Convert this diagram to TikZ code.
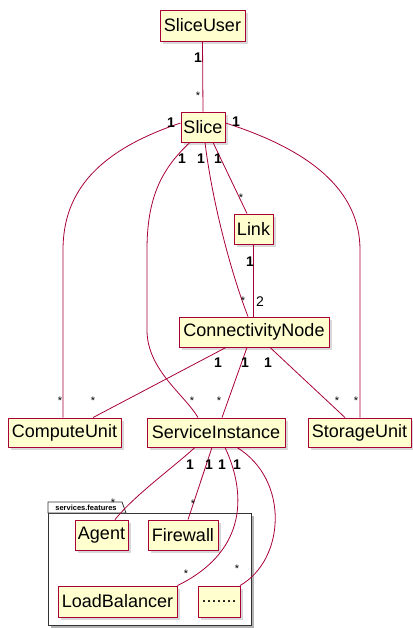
\documentclass[tikz,border=0pt]{standalone}
\usepackage{fontspec}
\setmainfont{Liberation Sans}
\usetikzlibrary{shadows}
\definecolor{umlred}{HTML}{A80036}
\definecolor{umlfill}{HTML}{FEFECE}
\begin{document}
\begin{tikzpicture}[x=1pt,y=-1pt,
  cls/.style={draw=umlred, fill=umlfill, line width=0.9pt,
    font=\fontsize{18}{20}\selectfont, inner sep=0pt, minimum height=30pt,
    drop shadow={shadow xshift=3pt, shadow yshift=-3pt, opacity=0.3}},
  assoc/.style={draw=umlred, line width=0.8pt},
  one/.style={font=\bfseries\fontsize{14}{14}\selectfont, inner sep=0pt},
  two/.style={font=\fontsize{14}{14}\selectfont, inner sep=0pt},
  many/.style={font=\fontsize{11}{11}\selectfont, inner sep=0pt},
  pkg/.style={draw=black!80, line width=0.8pt, fill=white},
]
\useasboundingbox (0,0) rectangle (412,628);

% package frame
\fill[black, opacity=0.3] (51,516) rectangle (254,628);
\draw[pkg] (48,513) rectangle (251,625);
\draw[pkg] (48,513) -- (48,502) -- (122,502) -- (126,513) -- cycle;
\node[font=\bfseries\fontsize{7.5}{8}\selectfont, inner sep=0pt] (pkglabel) at (86,508) {services.features};

% classes
\node[cls, minimum width=85pt, minimum height=31pt] (sliceuser) at (202.5,25.5) {SliceUser};
\node[cls, minimum width=44pt] (slice) at (203,127) {Slice};
\node[cls, minimum width=39pt] (link) at (253.5,229) {Link};
\node[cls, minimum width=150pt] (cn) at (254,332) {ConnectivityNode};
\node[cls, minimum width=113pt, minimum height=29pt] (compute) at (64.5,432.5) {ComputeUnit};
\node[cls, minimum width=138pt, minimum height=29pt] (service) at (216,432.5) {ServiceInstance};
\node[cls, minimum width=103pt, minimum height=29pt] (storage) at (359.5,432.5) {StorageUnit};
\node[cls, minimum width=53pt] (agent) at (101.5,535) {Agent};
\node[cls, minimum width=70pt] (firewall) at (183,535) {Firewall};
\node[cls, minimum width=119pt, minimum height=31pt] (lb) at (117.5,601.5) {LoadBalancer};
\node[cls, minimum width=42pt, minimum height=31pt] (more) at (219,601.5) {.......};

% associations
\draw[assoc] (sliceuser.south) -- (slice.north);
\draw[assoc] ([yshift=4pt]slice.west) .. controls (100,150) and (63,190) .. (63,250) -- ([xshift=-1.5pt]compute.north);
\draw[assoc] ([yshift=4pt]slice.east) .. controls (310,150) and (360,190) .. (360,250) -- ([xshift=0.5pt]storage.north);
\draw[assoc] ([xshift=-13pt]slice.south) .. controls (160,170) and (147,200) .. (147,250)
  -- (147,330) .. controls (147,370) and (185,395) .. ([xshift=-18pt]service.north);
\draw[assoc] ([xshift=2pt]slice.south) .. controls (212,200) and (230,270) .. ([xshift=-6pt]cn.north);
\draw[assoc] ([xshift=10pt]slice.south) -- ([xshift=-6.5pt]link.north);
\draw[assoc] ([xshift=0.3pt]link.south) -- ([xshift=0.3pt]cn.north -| link.south);
\draw[assoc] ([xshift=-28pt]cn.south) -- ([xshift=28.5pt]compute.north);
\draw[assoc] ([xshift=-7pt]cn.south) -- ([xshift=6pt]service.north);
\draw[assoc] ([xshift=16pt]cn.south) -- ([xshift=-14.5pt]storage.north);
\draw[assoc] ([xshift=-21pt]service.south) .. controls (170,470) and (135,495) .. ([xshift=13.5pt]agent.north);
\draw[assoc] ([xshift=-4pt]service.south) -- ([xshift=5pt]firewall.north);
\draw[assoc] ([xshift=9pt]service.south) .. controls (245,490) and (250,550) .. ([xshift=60pt]lb.north);
\draw[assoc] ([xshift=21pt]service.south) .. controls (290,480) and (285,560) .. ([xshift=21pt]more.north);

% multiplicities
\node[one] (m1) at (198,58) {1};
\node[many] (m2) at (198,96) {*};
\node[one] (m3) at (171,123) {1};
\node[one] (m4) at (236,122) {1};
\node[one] (m5) at (182,159) {1};
\node[one] (m6) at (201,159) {1};
\node[one] (m7) at (218,159) {1};
\node[many] (m8) at (241,198) {*};
\node[one] (m9) at (250,262) {1};
\node[many] (m10) at (243,301) {*};
\node[two] (m11) at (260,302) {2};
\node[one] (m12) at (218,363) {1};
\node[one] (m13) at (245,363) {1};
\node[one] (m14) at (268,363) {1};
\node[many] (m15) at (60,401) {*};
\node[many] (m16) at (93,401) {*};
\node[many] (m17) at (192,401) {*};
\node[many] (m18) at (219,401) {*};
\node[many] (m19) at (337,401) {*};
\node[many] (m20) at (356,401) {*};
\node[one] (m21) at (190,465) {1};
\node[one] (m22) at (209,465) {1};
\node[one] (m23) at (222,465) {1};
\node[one] (m24) at (237,465) {1};
\node[many] (m25) at (113,503) {*};
\node[many] (m26) at (193,504) {*};
\node[many] (m27) at (186,574) {*};
\node[many] (m28) at (237,569) {*};
\end{tikzpicture}
\end{document}
